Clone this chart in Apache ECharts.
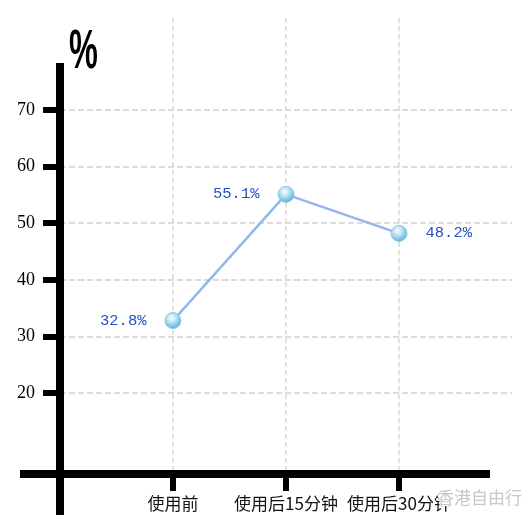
<!DOCTYPE html>
<html><head><meta charset="utf-8">
<script src="https://cdn.jsdelivr.net/npm/echarts@6/dist/echarts.min.js"></script>
<style>html,body{margin:0;padding:0;background:#fff}#c{width:531px;height:523px}</style>
</head><body><div id="c"></div>
<script>
const categories = ['', '使用前', '使用后15分钟', '使用后30分钟', ''];
const values = [null, 32.8, 55.1, 48.2, null];
const labelPos = [null, 'left', 'left', 'right', null];
const yTicks = [20, 30, 40, 50, 60, 70];
const unitTitle = '%';
const watermark = '香港自由行';

const chart = echarts.init(document.getElementById('c'));
const sphere = {
  type: 'radial', x: 0.42, y: 0.35, r: 0.7,
  colorStops: [{offset: 0, color: '#ffffff'}, {offset: 0.35, color: '#bfe6f4'}, {offset: 1, color: '#4aa6d4'}]
};
chart.setOption({
  animation: false,
  grid: [
    {left: 60, right: 19, top: 110, bottom: 130},
    {left: 60, right: 19, top: 18, bottom: 49},
    {left: 20, right: 41, top: 400, bottom: 49},
    {left: 60, right: 460, top: 63, bottom: 8}
  ],
  xAxis: [
    {gridIndex: 0, type: 'category', data: categories, boundaryGap: false, show: false},
    {gridIndex: 1, type: 'category', data: categories, boundaryGap: false,
      axisLine: {show: false},
      axisTick: {show: true, length: 17, interval: (i) => i >= 1 && i <= 3, lineStyle: {color: '#000', width: 6, cap: 'butt'}},
      axisLabel: {interval: 0, margin: 21, fontFamily: 'Noto Sans CJK SC', fontSize: 17, color: '#111'},
      splitLine: {show: true, interval: (i) => i >= 1 && i <= 3, lineStyle: {color: '#d6d6d6', width: 1.5, type: [5, 3]}}},
    {gridIndex: 2, type: 'value', min: 0, max: 1, axisLine: {show: true, onZero: false, lineStyle: {color: '#000', width: 8, cap: 'butt'}},
      axisTick: {show: false}, axisLabel: {show: false}, splitLine: {show: false}},
    {gridIndex: 3, type: 'value', show: false}
  ],
  yAxis: [
    {gridIndex: 0, type: 'value', min: yTicks[0], max: yTicks[yTicks.length - 1], interval: 10,
      axisLine: {show: false},
      axisTick: {show: true, length: 17, lineStyle: {color: '#000', width: 6, cap: 'butt'}},
      axisLabel: {margin: 25, fontFamily: 'Liberation Serif', fontSize: 18, color: '#000'},
      splitLine: {show: true, lineStyle: {color: '#d0d0d0', width: 1.5, type: [6, 3]}}},
    {gridIndex: 1, type: 'value', show: false},
    {gridIndex: 2, type: 'value', show: false},
    {gridIndex: 3, type: 'value', min: 0, max: 1, axisLine: {show: true, onZero: false, lineStyle: {color: '#000', width: 8, cap: 'butt'}},
      axisTick: {show: false}, axisLabel: {show: false}, splitLine: {show: false}}
  ],
  series: [{
    type: 'line', xAxisIndex: 0, yAxisIndex: 0, z: 5,
    data: values.map((v, i) => v == null ? null : {value: v, label: {position: labelPos[i]}}),
    symbol: 'circle', symbolSize: 16,
    lineStyle: {color: '#92b6ee', width: 2.5},
    itemStyle: {color: sphere, borderColor: '#8cc9e4', borderWidth: 1},
    label: {show: true, distance: 18, formatter: '{c}%', fontFamily: 'Liberation Mono', fontSize: 15.5, color: '#2450c0'}
  }],
  graphic: [
    {type: 'text', x: 69, y: 25, scaleX: 0.58, z: 100,
      style: {text: unitTitle, fontFamily: 'Liberation Sans', fontWeight: 'bold', fontSize: 56, fill: '#000'}},
    {type: 'text', left: 436, top: 488, z: 100,
      style: {text: watermark, fontFamily: 'Noto Sans CJK SC', fontSize: 17, fill: '#c8c8c8', stroke: '#ffffff', lineWidth: 2}}
  ]
});
</script></body></html>
